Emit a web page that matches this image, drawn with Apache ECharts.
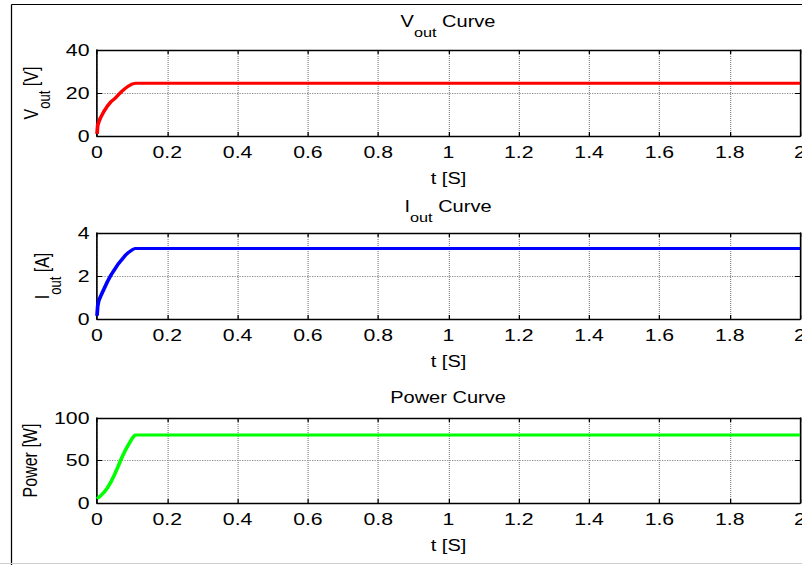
<!DOCTYPE html>
<html>
<head>
<meta charset="utf-8">
<script src="https://cdn.jsdelivr.net/npm/echarts@6/dist/echarts.min.js"></script>
<style>
  html, body { margin: 0; padding: 0; background: #fff; overflow: hidden; width: 802px; height: 565px; }
  /* the figure is drawn narrow and widened horizontally, like a stretched export */
  #chart { height: 565px; transform-origin: 0 0; }
</style>
</head>
<body>
<div id="chart"></div>
<script>
// simulation time [s]
const timeS = [0, 0.002, 0.005, 0.01, 0.02, 0.03, 0.04, 0.05, 0.06, 0.07, 0.08, 0.09, 0.1, 0.108, 2];
// output voltage [V]
const voutV = [1, 5, 6.5, 8.5, 11.5, 14, 16, 17.3, 19, 20.7, 22.1, 23.3, 24.2, 24.5, 24.5];
// output current [A]
const ioutA = [0.15, 0.6, 0.85, 1.05, 1.4, 1.75, 2.05, 2.3, 2.55, 2.75, 2.95, 3.1, 3.22, 3.28, 3.28];
// output power [W]
const powerW = [5, 5.5, 6.5, 8.5, 12.5, 18, 25, 33.5, 43, 53, 61.5, 69, 76, 80, 80];

// y ranges: [min, max, step]
const voutRange = [0, 40, 20];
const ioutRange = [0, 4, 2];
const powerRange = [0, 100, 50];
const timeRange = [0, 2, 0.2];

const SX = 1.25;                 // horizontal stretch of the figure
const FIG_W = 802, FIG_H = 565;
const px = x => x / SX;          // figure px -> unstretched px

const el = document.getElementById('chart');
el.style.width = px(FIG_W) + 'px';
el.style.transform = 'scaleX(' + SX + ')';

const FONT = "'Liberation Sans', Arial, Helvetica, sans-serif";
const rich = {
  m: { fontSize: 16, lineHeight: 18, fontFamily: FONT, color: '#000', verticalAlign: 'top' },
  s: { fontSize: 13, lineHeight: 12, fontFamily: FONT, color: '#000', padding: [12, 0, 0, 0], verticalAlign: 'top' }
};

const panels = [
  { top: 50,  height: 86, range: voutRange,  name: '{m|V}{s|out}{m| [V]}', gap: 36, data: voutV,  color: '#ff0000' },
  { top: 233, height: 86, range: ioutRange,  name: '{m|I}{s|out}{m| [A]}', gap: 34, data: ioutA,  color: '#0000ff' },
  { top: 418, height: 85, range: powerRange, name: '{m|Power [W]}',        gap: 43, data: powerW, color: '#00ff00' }
];

const axisLine = { onZero: false, lineStyle: { color: '#000', width: 1.3 } };
const tick = { inside: true, length: 4, lineStyle: { color: '#000', width: 1 } };
const split = { show: true, lineStyle: { color: '#8a8a8a', type: 'dotted', width: 1 } };
const labelStyle = { fontSize: 17, color: '#000', fontFamily: FONT, lineHeight: 17 };

const grid = [], xAxis = [], yAxis = [], series = [];
panels.forEach((p, i) => {
  grid.push({ left: px(97), top: p.top, width: px(703), height: p.height, outerBoundsMode: 'none', containLabel: false });
  xAxis.push({
    gridIndex: i, type: 'value', position: 'bottom',
    min: timeRange[0], max: timeRange[1], interval: timeRange[2],
    axisLine, axisTick: tick, splitLine: split,
    axisLabel: Object.assign({ margin: 8 }, labelStyle),
    name: 't [S]', nameLocation: 'middle', nameGap: 34,
    nameTextStyle: { fontSize: 16, color: '#000', fontFamily: FONT, lineHeight: 18 }
  });
  xAxis.push({
    gridIndex: i, type: 'value', position: 'top',
    min: timeRange[0], max: timeRange[1], interval: timeRange[2],
    axisLine, axisTick: tick, splitLine: { show: false }, axisLabel: { show: false }
  });
  yAxis.push({
    gridIndex: i, type: 'value', position: 'left',
    min: p.range[0], max: p.range[1], interval: p.range[2],
    axisLine, axisTick: tick, splitLine: split,
    axisLabel: Object.assign({ margin: 6 }, labelStyle),
    name: p.name, nameLocation: 'middle', nameGap: p.gap,
    nameTextStyle: { rich }
  });
  yAxis.push({
    gridIndex: i, type: 'value', position: 'right',
    min: p.range[0], max: p.range[1], interval: p.range[2],
    axisLine, axisTick: tick, splitLine: { show: false }, axisLabel: { show: false }
  });
  series.push({
    type: 'line', xAxisIndex: 2 * i, yAxisIndex: 2 * i,
    data: timeS.map((t, k) => [t, p.data[k]]),
    symbol: 'none', animation: false,
    lineStyle: { color: p.color, width: 3 }
  });
});

const titleText = (text, x, y) => ({
  type: 'text', x: x, y: y, silent: true,
  style: { text, rich, align: 'center', verticalAlign: 'bottom', fill: '#000', font: '16px ' + FONT }
});

const graphic = [
  // figure frame
  { type: 'line', silent: true, shape: { x1: px(11.5), y1: 4.5, x2: px(FIG_W) + 2, y2: 4.5 }, style: { stroke: '#000', lineWidth: 1 } },
  { type: 'line', silent: true, shape: { x1: px(11.5), y1: 4.5, x2: px(11.5), y2: FIG_H }, style: { stroke: '#000', lineWidth: 1 } },
  { type: 'line', silent: true, shape: { x1: 0, y1: 563.5, x2: px(FIG_W) + 2, y2: 563.5 }, style: { stroke: '#cfcfcf', lineWidth: 1 } },
  // panel titles
  titleText('{m|V}{s|out}{m| Curve}', px(448), 32),
  titleText('{m|I}{s|out}{m| Curve}', px(448), 217),
  titleText('{m|Power Curve}', px(448), 408)
];

const chart = echarts.init(el, null, { renderer: 'svg' });
chart.setOption({
  backgroundColor: '#fff',
  animation: false,
  grid, xAxis, yAxis, series, graphic
});
</script>
</body>
</html>
